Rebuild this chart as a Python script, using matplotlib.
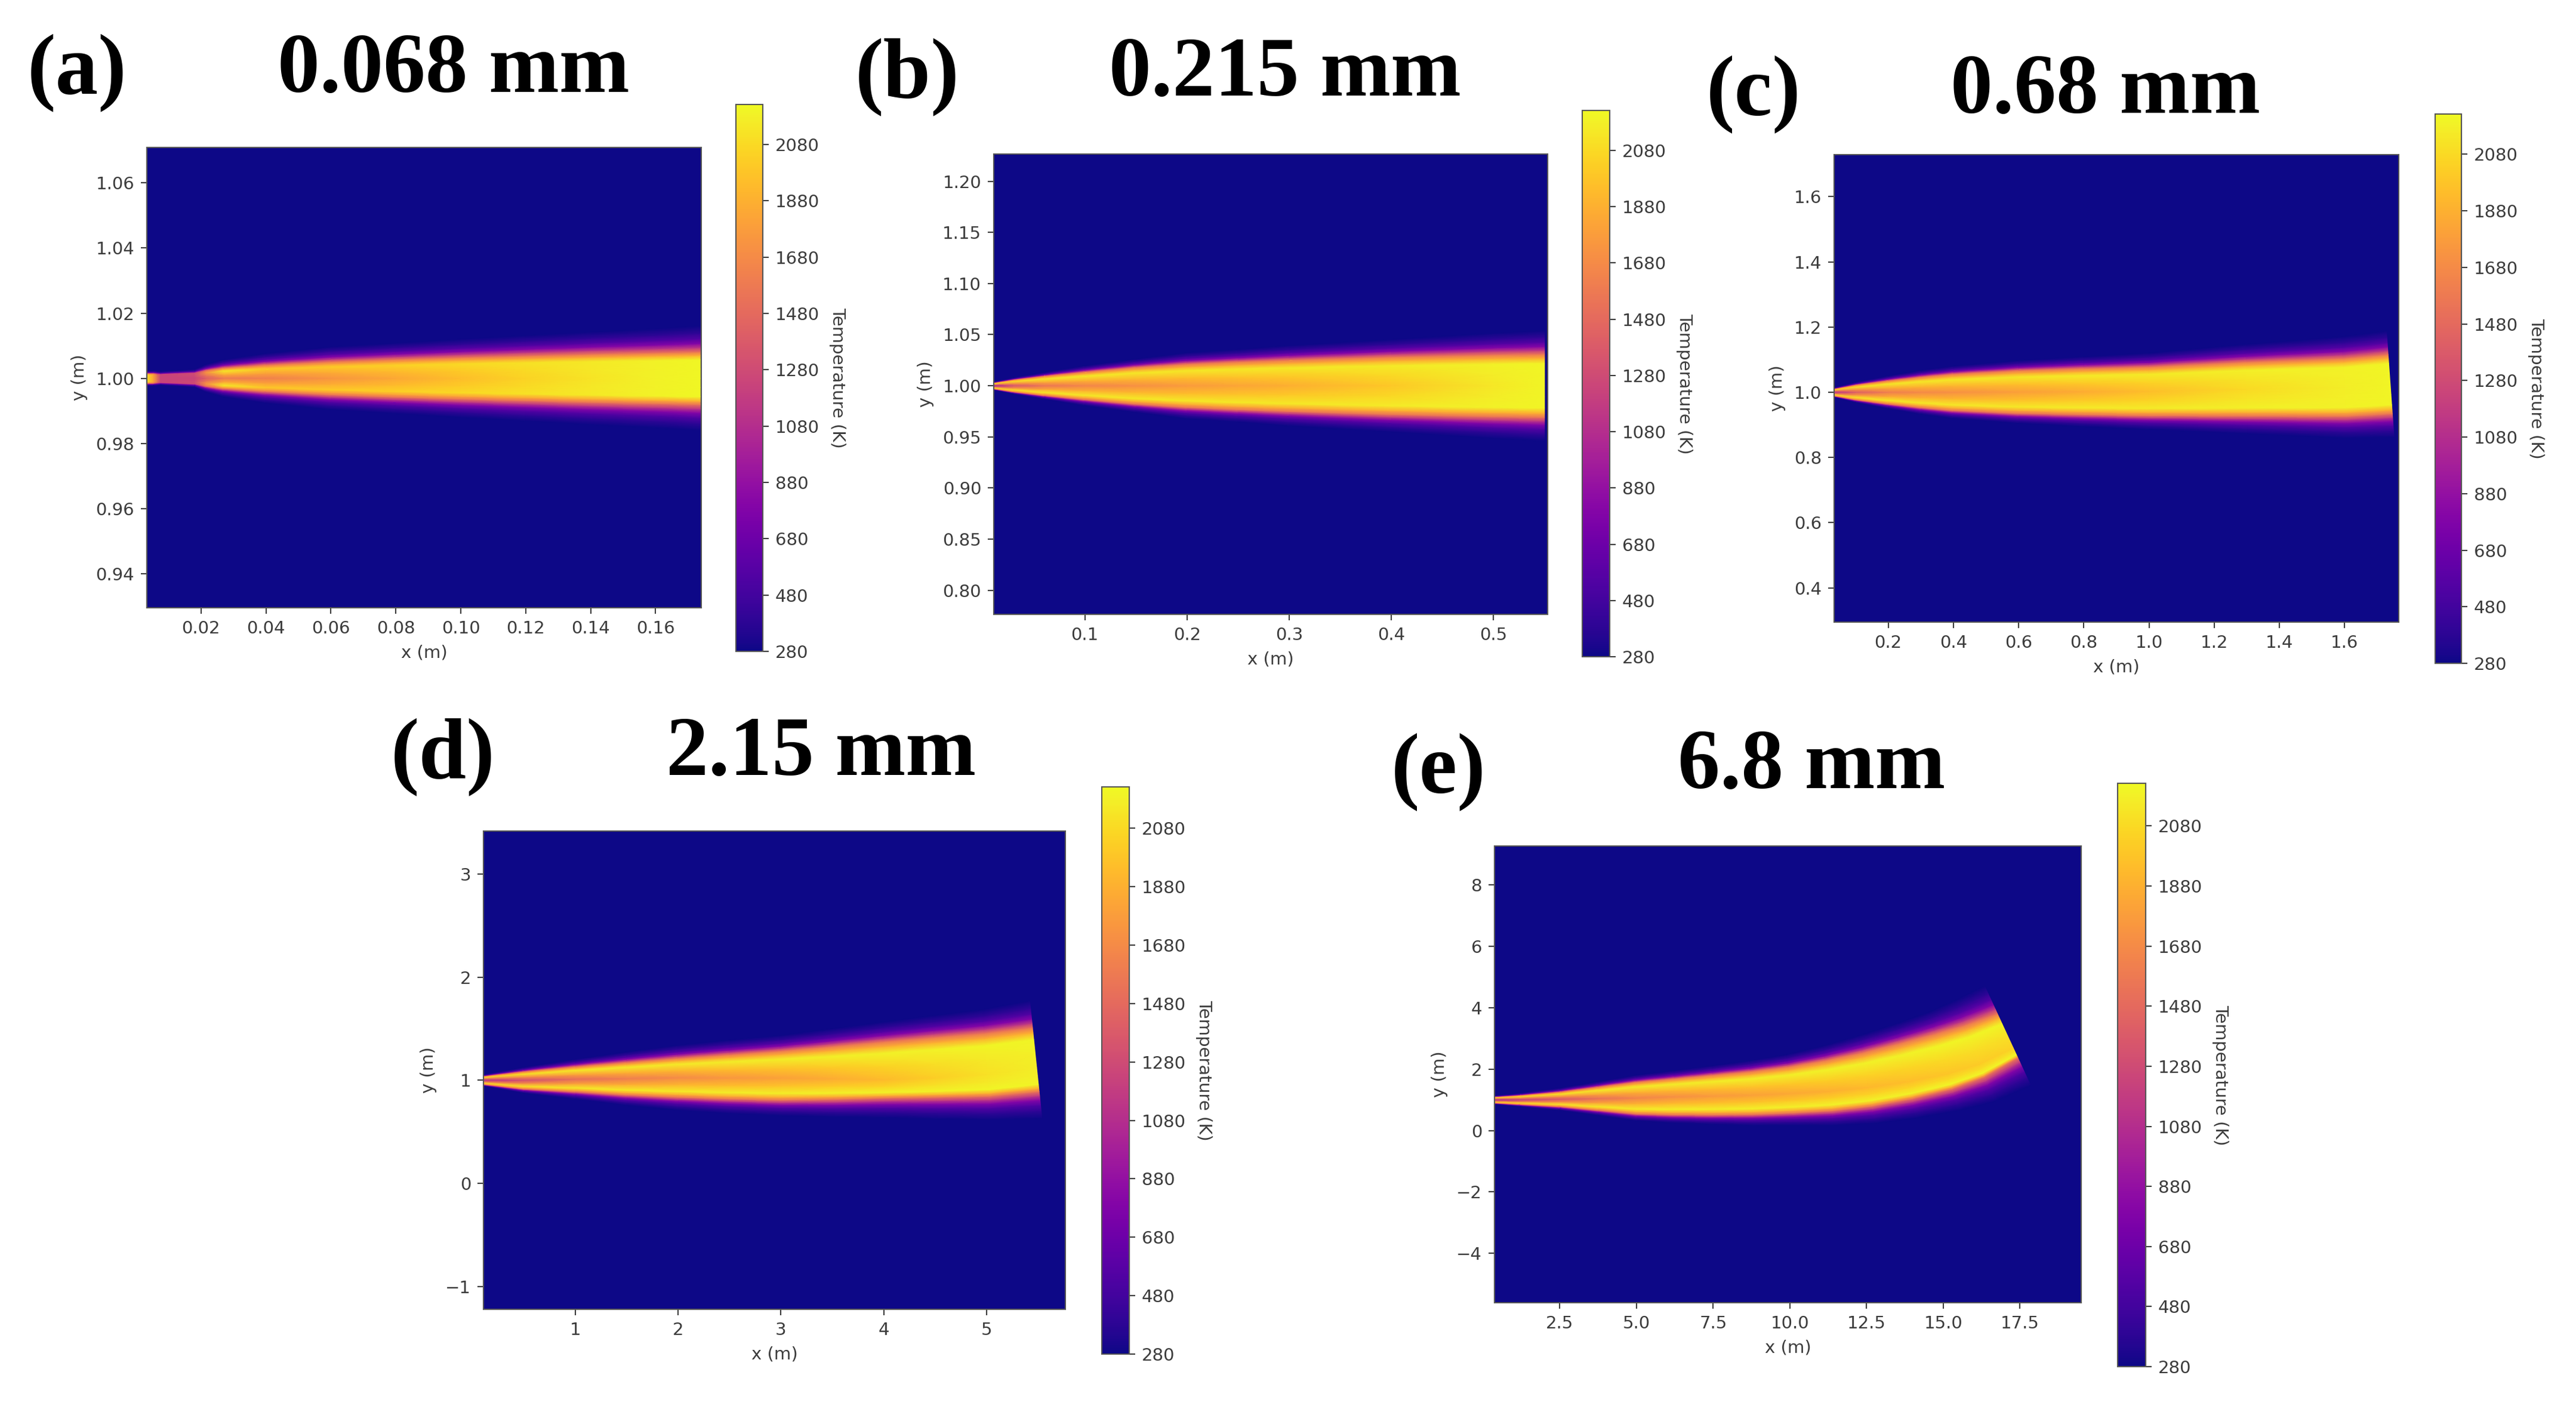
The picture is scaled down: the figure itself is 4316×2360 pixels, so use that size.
import numpy as np
import matplotlib
matplotlib.use("Agg")
import matplotlib.pyplot as plt
from matplotlib.cm import ScalarMappable
from matplotlib.colors import Normalize

W, H = 4316, 2360
T_MIN, T_MAX = 280, 2222
CB_TICKS = [280, 480, 680, 880, 1080, 1280, 1480, 1680, 1880, 2080]
INK = "#3c3c3c"

# flame: station x, centre y, half width to the flame edge,
# width of the outer fade, core temperature, sheet temperature, shift of the core
A_X = [0.0034, 0.0052, 0.0075, 0.018, 0.0215, 0.027, 0.04, 0.06, 0.08, 0.10, 0.12, 0.14, 0.16, 0.1738]
A_YC = [1.0] * 14
A_H = [0.0015, 0.0015, 0.0012, 0.0016, 0.0024, 0.0032, 0.0041, 0.0051, 0.0058, 0.0064, 0.0069, 0.0074, 0.0078, 0.0081]
A_FADE = [0.0008, 0.0008, 0.0009, 0.0011, 0.0018, 0.0025, 0.0035, 0.0045, 0.005, 0.0056, 0.0062, 0.0068, 0.0074, 0.008]
A_CORE = [2080, 1850, 1230, 1230, 1400, 1580, 1620, 1740, 1840, 1950, 2050, 2130, 2190, 2210]
A_SHEET = [2080, 1850, 1230, 1280, 1720, 2150, 2000, 2010, 2040, 2080, 2120, 2150, 2190, 2210]
A_DIP = [0.0] * 14

B_X = [0.0108, 0.03, 0.06, 0.10, 0.15, 0.20, 0.25, 0.30, 0.40, 0.50, 0.55]
B_YC = [1.0] * 11
B_H = [0.003, 0.006, 0.0095, 0.0135, 0.018, 0.0212, 0.0234, 0.0252, 0.0282, 0.0303, 0.031]
B_FADE = [0.001, 0.002, 0.0035, 0.006, 0.008, 0.011, 0.012, 0.014, 0.017, 0.021, 0.023]
B_CORE = [1000, 1350, 1550, 1650, 1710, 1770, 1820, 1880, 2000, 2140, 2200]
B_SHEET = [2050, 2100, 2150, 2150, 2150, 2150, 2150, 2150, 2160, 2190, 2200]
B_DIP = [0.0] * 11

C_X = [0.034, 0.1, 0.2, 0.3, 0.4, 0.6, 0.8, 1.0, 1.3, 1.6, 1.74]
C_YC = [1.0, 1.0, 1.0, 1.0, 1.0, 1.001, 1.002, 1.003, 1.01, 1.015, 1.025]
C_H = [0.011, 0.023, 0.036, 0.047, 0.056, 0.066, 0.071, 0.075, 0.083, 0.089, 0.091]
C_FADE = [0.004, 0.008, 0.014, 0.02, 0.024, 0.03, 0.036, 0.042, 0.054, 0.066, 0.072]
C_CORE = [1100, 1400, 1600, 1670, 1710, 1790, 1860, 1950, 2080, 2170, 2200]
C_SHEET = [2050, 2120, 2150, 2150, 2150, 2150, 2160, 2160, 2180, 2190, 2200]
C_DIP = [0.0] * 11

D_X = [0.106, 0.5, 1.0, 1.5, 2.0, 2.5, 3.0, 3.5, 4.0, 4.5, 5.0, 5.48]
D_YC = [1.0, 1.0, 1.01, 1.015, 1.024, 1.033, 1.045, 1.07, 1.10, 1.125, 1.15, 1.20]
D_H = [0.04, 0.085, 0.122, 0.158, 0.189, 0.215, 0.238, 0.256, 0.272, 0.29, 0.305, 0.31]
D_FADE = [0.015, 0.04, 0.07, 0.1, 0.125, 0.14, 0.15, 0.17, 0.19, 0.21, 0.23, 0.26]
D_CORE = [1100, 1300, 1500, 1600, 1680, 1750, 1800, 1860, 1940, 2030, 2110, 2170]
D_SHEET = [2050, 2120, 2150, 2160, 2160, 2170, 2170, 2180, 2190, 2190, 2200, 2200]
D_DIP = [0.0, 0.0, 0.0, 0.0, 0.0, -0.05, -0.1, -0.22, -0.35, -0.35, -0.3, -0.25]

E_X = [0.37, 1.2, 2.5, 3.75, 5.0, 6.25, 7.5, 8.75, 10.0, 11.25, 12.5, 13.75, 15.0, 16.0, 17.1]
E_YC = [1.0, 1.0, 1.02, 1.04, 1.06, 1.10, 1.155, 1.22, 1.32, 1.46, 1.66, 1.93, 2.25, 2.58, 3.09]
E_H = [0.10, 0.15, 0.24, 0.38, 0.52, 0.59, 0.65, 0.70, 0.75, 0.82, 0.87, 0.90, 0.90, 0.84, 0.72]
E_FADE = [0.04, 0.07, 0.12, 0.17, 0.22, 0.26, 0.30, 0.35, 0.40, 0.47, 0.55, 0.62, 0.70, 0.8, 0.9]
E_CORE = [1050, 1200, 1350, 1520, 1640, 1700, 1760, 1800, 1840, 1880, 1920, 1950, 1980, 2010, 2040]
E_SHEET = [2000, 2080, 2120, 2150, 2160, 2170, 2170, 2180, 2180, 2190, 2190, 2190, 2200, 2200, 2200]
E_DIP = [0.0, 0.0, 0.0, 0.0, 0.0, 0.0, -0.05, -0.1, -0.15, -0.22, -0.3, -0.38, -0.45, -0.5, -0.55]

A_XTICKS = [0.02, 0.04, 0.06, 0.08, 0.10, 0.12, 0.14, 0.16]
A_YTICKS = [0.94, 0.96, 0.98, 1.00, 1.02, 1.04, 1.06]
B_XTICKS = [0.1, 0.2, 0.3, 0.4, 0.5]
B_YTICKS = [0.80, 0.85, 0.90, 0.95, 1.00, 1.05, 1.10, 1.15, 1.20]
C_XTICKS = [0.2, 0.4, 0.6, 0.8, 1.0, 1.2, 1.4, 1.6]
C_YTICKS = [0.4, 0.6, 0.8, 1.0, 1.2, 1.4, 1.6]
D_XTICKS = [1, 2, 3, 4, 5]
D_YTICKS = [-1, 0, 1, 2, 3]
E_XTICKS = [2.5, 5.0, 7.5, 10.0, 12.5, 15.0, 17.5]
E_YTICKS = [-4, -2, 0, 2, 4, 6, 8]

# fractions across the band from core to flame edge, and outwards over the fade
INNER = [0.0, 0.35, 0.7, 0.87, 1.0]
OUTER = [0.16, 0.32, 0.5, 0.72, 1.0]
OUTER_T = [1150, 800, 560, 400, 280]
EDGE_T = 1550


def px_axes(fig, left, top, right, bottom):
    return fig.add_axes([left / W, 1 - bottom / H, (right - left) / W, (bottom - top) / H])


def flame_mesh(x, yc, half, fade, core, sheet, dip):
    x, yc, half, fade = map(np.asarray, (x, yc, half, fade))
    core, sheet, dip = map(np.asarray, (core, sheet, dip))
    edge = np.minimum(EDGE_T, sheet)
    inner_t = [core, core + 0.45 * (sheet - core), sheet, 0.5 * sheet + 0.5 * edge, edge]
    rows_off, rows_t = [], []
    for side in (-1, 1):
        for f, t in zip(INNER, inner_t):
            if side == 1 and f == 0.0:
                continue
            rows_off.append(half * (dip + (side - dip) * f))
            rows_t.append(t)
        for f, t in zip(OUTER, OUTER_T):
            rows_off.append(half * side + fade * side * f)
            rows_t.append(np.minimum(edge, t))
    order = np.argsort([np.mean(r) for r in rows_off])
    off = np.array(rows_off)[order]
    temp = np.array(rows_t, dtype=float)[order]
    slope = np.gradient(yc, x)
    return x - slope * off, yc + off, temp


def draw_panel(fig, box, cbox, xlim, ylim, xticks, yticks, flame, letter, title, cmap, norm):
    ax = px_axes(fig, *box)
    ax.set_facecolor(cmap(0.0))
    X, Y, T = flame_mesh(*flame)
    ax.pcolormesh(X, Y, T, shading="gouraud", cmap=cmap, norm=norm, rasterized=True)
    ax.set_xlim(*xlim)
    ax.set_ylim(*ylim)
    ax.set_xticks(xticks)
    ax.set_yticks(yticks)
    ax.tick_params(labelsize=21, length=7, width=1.5, pad=8, colors=INK)
    ax.set_xlabel("x (m)", fontsize=21, color=INK, labelpad=9)
    ax.set_ylabel("y (m)", fontsize=21, color=INK, labelpad=10)
    for sp in ax.spines.values():
        sp.set_color("#555555")
        sp.set_linewidth(1.5)

    cax = px_axes(fig, *cbox)
    cb = fig.colorbar(ScalarMappable(norm=norm, cmap=cmap), cax=cax, ticks=CB_TICKS)
    cb.ax.tick_params(labelsize=21, length=7, width=1.5, pad=8, colors=INK)
    cb.outline.set_edgecolor("#555555")
    cb.outline.set_linewidth(1.5)
    cb.set_label("Temperature (K)", rotation=270, fontsize=21, color=INK, labelpad=32)

    fig.text(letter[0] / W, 1 - letter[1] / H, letter[2], fontsize=103, fontweight="bold",
             family="Liberation Serif", ha="left", va="baseline", color="black")
    fig.text(title[0] / W, 1 - title[1] / H, title[2], fontsize=102, fontweight="bold",
             family="Liberation Serif", ha="center", va="baseline", color="black")


def main():
    cmap = plt.get_cmap("plasma")
    norm = Normalize(T_MIN, T_MAX)
    fig = plt.figure(figsize=(W / 100, H / 100), dpi=100, facecolor="white")

    draw_panel(fig, (246, 247, 1175, 1018), (1233, 175, 1278, 1091),
               (0.0033, 0.1741), (0.9295, 1.0709), A_XTICKS, A_YTICKS,
               (A_X, A_YC, A_H, A_FADE, A_CORE, A_SHEET, A_DIP),
               (46, 156, "(a)"), (760, 154, "0.068 mm"), cmap, norm)
    draw_panel(fig, (1665, 258, 2593, 1029), (2651, 185, 2697, 1100),
               (0.0108, 0.553), (0.7764, 1.2266), B_XTICKS, B_YTICKS,
               (B_X, B_YC, B_H, B_FADE, B_CORE, B_SHEET, B_DIP),
               (1433, 163, "(b)"), (2153, 160, "0.215 mm"), cmap, norm)
    draw_panel(fig, (3073, 259, 4019, 1042), (4080, 191, 4124, 1111),
               (0.034, 1.766), (0.295, 1.729), C_XTICKS, C_YTICKS,
               (C_X, C_YC, C_H, C_FADE, C_CORE, C_SHEET, C_DIP),
               (2859, 192, "(c)"), (3528, 189, "0.68 mm"), cmap, norm)
    draw_panel(fig, (810, 1392, 1785, 2193), (1846, 1318, 1892, 2268),
               (0.106, 5.767), (-1.22, 3.415), D_XTICKS, D_YTICKS,
               (D_X, D_YC, D_H, D_FADE, D_CORE, D_SHEET, D_DIP),
               (655, 1302, "(d)"), (1376, 1298, "2.15 mm"), cmap, norm)
    draw_panel(fig, (2504, 1417, 3487, 2182), (3548, 1312, 3595, 2289),
               (0.37, 19.5), (-5.61, 9.27), E_XTICKS, E_YTICKS,
               (E_X, E_YC, E_H, E_FADE, E_CORE, E_SHEET, E_DIP),
               (2331, 1327, "(e)"), (3035, 1320, "6.8 mm"), cmap, norm)

    fig.savefig("out.png", dpi=100)
    plt.close(fig)


if __name__ == "__main__":
    main()
